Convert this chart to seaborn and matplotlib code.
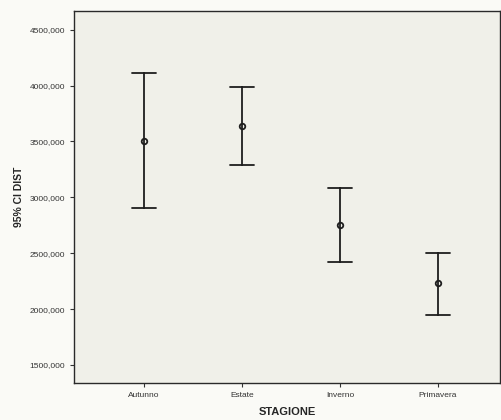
import matplotlib
matplotlib.use("Agg")
import matplotlib.pyplot as plt
import matplotlib.ticker as mticker
import numpy as np
import pandas as pd
import seaborn as sns

# values (mean with 95% CI)
stagioni = ["Autunno", "Estate", "Inverno", "Primavera"]
media = [3504, 3641, 2753, 2231]
ci_low = [2902, 3289, 2424, 1947]
ci_high = [4110, 3985, 3086, 2499]
y_ticks = [1500, 2000, 2500, 3000, 3500, 4000, 4500]

# long table: median of (low, mean, high) is the mean, min/max are the CI ends
rows = []
for s, lo, m, hi in zip(stagioni, ci_low, media, ci_high):
    for v in (lo, m, hi):
        rows.append({"STAGIONE": s, "DIST": v})
df = pd.DataFrame(rows)

sns.set_style("ticks")
plt.rcParams["font.family"] = ["Liberation Sans", "DejaVu Sans"]

fig = plt.figure(figsize=(5.01, 4.2), dpi=100, facecolor="#fafaf6")
ax = fig.add_axes([0.148, 0.088, 0.85, 0.886])
ax.set_facecolor("#f0f0e9")

sns.pointplot(data=df, x="STAGIONE", y="DIST", order=stagioni,
              estimator=np.median, errorbar=lambda x: (x.min(), x.max()),
              linestyle="none", color="#1e1e1e", capsize=0.25,
              markers="o", markersize=4, markerfacecolor="none",
              markeredgewidth=1.3, err_kws={"linewidth": 1.3}, ax=ax)

ax.set_xlim(-0.714, 3.633)
ax.set_ylim(1339, 4667)
ax.set_yticks(y_ticks)
ax.yaxis.set_major_formatter(mticker.FuncFormatter(lambda v, p: f"{v:.3f}".replace(".", ",")))

ax.tick_params(axis="both", labelsize=6, colors="#333333", length=3, width=0.8,
               labelcolor="#333333")
for side in ["left", "bottom", "top", "right"]:
    ax.spines[side].set_visible(True)
    ax.spines[side].set_color("#2a2a2a")
    ax.spines[side].set_linewidth(1.0)

ax.set_xlabel("STAGIONE", fontsize=8, fontweight="bold", labelpad=6)
ax.set_ylabel("95% CI DIST", fontsize=7.5, fontweight="bold", labelpad=4)

fig.savefig("out.png", dpi=100, facecolor=fig.get_facecolor())
